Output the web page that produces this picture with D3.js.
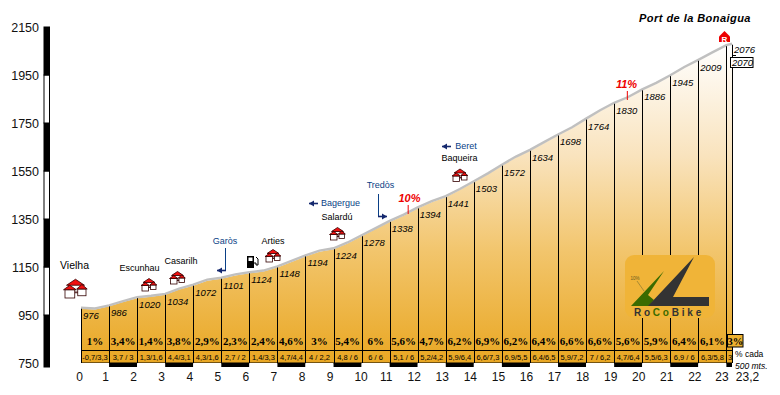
<!DOCTYPE html>
<html>
<head>
<meta charset="utf-8">
<script src="https://cdn.jsdelivr.net/npm/d3@7"></script>
<style>
  html, body { margin: 0; padding: 0; background: #fff; }
  svg { display: block; font-family: "Liberation Sans", Arial, sans-serif; }
</style>
</head>
<body>
<svg id="chart" width="780" height="395"></svg>
<script>
// km marks and altitude at each one (last one is the summit at 23,2)
var kms = [0,1,2,3,4,5,6,7,8,9,10,11,12,13,14,15,16,17,18,19,20,21,22,23,23.2]
var kmLabels = ["0","1","2","3","4","5","6","7","8","9","10","11","12","13","14","15","16","17","18","19","20","21","22","23","23,2"]
var altitudes = [976,986,1020,1034,1072,1101,1124,1148,1194,1224,1278,1338,1394,1441,1503,1572,1634,1698,1764,1830,1886,1945,2009,2070,2076]

// profile every 500 m, read from the partial gradients
var profileKm = [0,0.5,1,1.5,2,2.5,3,3.5,4,4.5,5,5.5,6,6.5,7,7.5,8,8.5,9,9.5,10,10.5,11,11.5,12,12.5,13,13.5,14,14.5,15,15.5,16,16.5,17,17.5,18,18.5,19,19.5,20,20.5,21,21.5,22,22.5,23,23.2]
var profileAlt = [976,973,986,1004,1020,1026,1034,1056,1072,1093,1101,1115,1124,1131,1148,1171,1194,1214,1224,1248,1278,1308,1338,1364,1394,1420,1441,1471,1503,1536,1572,1606,1634,1666,1698,1728,1764,1799,1830,1854,1886,1913,1945,1979,2009,2040,2070,2076]

// gradients per km and per 500 m
var gradients = ["1%","3,4%","1,4%","3,8%","2,9%","2,3%","2,4%","4,6%","3%","5,4%","6%","5,6%","4,7%","6,2%","6,9%","6,2%","6,4%","6,6%","6,6%","5,6%","5,9%","6,4%","6,1%","3%"]
var partials = ["-0,7/3,3","3,7 / 3","1,3/1,6","4,4/3,1","4,3/1,6","2,7 / 2","1,4/3,3","4,7/4,4","4 / 2,2","4,8 / 6","6 / 6","5,1 / 6","5,2/4,2","5,9/6,4","6,6/7,3","6,9/5,5","6,4/6,5","5,9/7,2","7 / 6,2","4,7/6,4","5,5/6,3","6,9 / 6","6,3/5,8","3"]

var altTicks = [750,950,1150,1350,1550,1750,1950,2150]

var svg = d3.select("#chart")
var x = d3.scaleLinear().domain([0, 23.2]).range([81, 732])
var y = d3.scaleLinear().domain([750, 2150]).range([363, 27])

var rowTop = 350, baseY = 363, stripY = 367

var defs = svg.append("defs")
var grad = defs.append("linearGradient")
    .attr("id", "slope")
    .attr("gradientUnits", "userSpaceOnUse")
    .attr("x1", 0).attr("x2", 0).attr("y1", 45).attr("y2", 363)
grad.append("stop").attr("offset", "0%").attr("stop-color", "#ffffff")
grad.append("stop").attr("offset", "35%").attr("stop-color", "#f9e3bd")
grad.append("stop").attr("offset", "65%").attr("stop-color", "#f2c56c")
grad.append("stop").attr("offset", "100%").attr("stop-color", "#e9a723")

// ------Left altitude bar------
var altBands = d3.pairs(altTicks)
svg.selectAll("rect.alt-band")
    .data(altBands)
    .enter()
    .append("rect")
    .attr("class", "alt-band")
    .attr("x", 44)
    .attr("y", function (d) { return y(d[1]) })
    .attr("width", 5.5)
    .attr("height", function (d) { return y(d[0]) - y(d[1]) + (d[0] == 750 ? stripY - baseY : 0) })
    .attr("fill", function (d, i) { return i % 2 == 0 ? "#000" : "#fff" })
    .attr("stroke", "#000")
    .attr("stroke-width", 1)

var yAxis = d3.axisLeft(y).tickValues(altTicks).tickSize(0).tickPadding(0).tickFormat(d3.format("d"))
var yG = svg.append("g").attr("transform", "translate(39,0)").call(yAxis)
yG.select(".domain").remove()
yG.selectAll("text").attr("font-size", "12.5px").attr("font-family", "Liberation Sans").attr("fill", "#111")

// ------Profile------
var points = profileKm.map(function (k, i) { return [k, profileAlt[i]] })
var area = d3.area()
    .x(function (d) { return x(d[0]) })
    .y0(baseY)
    .y1(function (d) { return y(d[1]) })
var line = d3.line()
    .x(function (d) { return x(d[0]) })
    .y(function (d) { return y(d[1]) - 1 })

svg.append("path").datum(points).attr("d", area).attr("fill", "url(#slope)")
svg.append("path").datum(points).attr("d", line)
    .attr("fill", "none").attr("stroke", "#c0c0c0").attr("stroke-width", 2.4)

// km lines
svg.selectAll("line.km")
    .data(kms)
    .enter()
    .append("line")
    .attr("class", "km")
    .attr("x1", function (d) { return Math.round(x(d)) + 0.5 })
    .attr("x2", function (d) { return Math.round(x(d)) + 0.5 })
    .attr("y1", function (d, i) { return y(altitudes[i]) })
    .attr("y2", baseY)
    .attr("stroke", "#000")
    .attr("stroke-width", 1)

// rows under the profile
svg.append("line").attr("x1", x(0)).attr("x2", x(23.2)).attr("y1", rowTop + 0.5).attr("y2", rowTop + 0.5).attr("stroke", "#000")
svg.append("line").attr("x1", x(0)).attr("x2", x(23.2)).attr("y1", baseY).attr("y2", baseY).attr("stroke", "#000")

// checker strip along the km axis
svg.selectAll("rect.strip")
    .data(d3.pairs(kms))
    .enter()
    .append("rect")
    .attr("class", "strip")
    .attr("x", function (d) { return x(d[0]) })
    .attr("y", baseY)
    .attr("width", function (d) { return x(d[1]) - x(d[0]) })
    .attr("height", stripY - baseY)
    .attr("fill", function (d, i) { return i % 2 == 0 ? "#fff" : "#000" })

// altitude labels
svg.selectAll("text.alt")
    .data(altitudes.slice(0, 23))
    .enter()
    .append("text")
    .attr("class", "alt")
    .attr("x", function (d, i) { return x(kms[i]) + 2 })
    .attr("y", function (d) { return y(d) + 10 })
    .attr("font-size", "9.5px")
    .attr("font-style", "italic")
    .attr("fill", "#000")
    .text(function (d) { return d })

// gradient per km
svg.selectAll("text.grad")
    .data(gradients.slice(0, 23))
    .enter()
    .append("text")
    .attr("class", "grad")
    .attr("x", function (d, i) { return (x(kms[i]) + x(kms[i + 1])) / 2 })
    .attr("y", 345)
    .attr("text-anchor", "middle")
    .attr("font-family", "Liberation Serif")
    .attr("font-weight", "bold")
    .attr("font-size", "11px")
    .text(function (d) { return d })

svg.selectAll("text.partial")
    .data(partials.slice(0, 23))
    .enter()
    .append("text")
    .attr("class", "partial")
    .attr("x", function (d, i) { return (x(kms[i]) + x(kms[i + 1])) / 2 })
    .attr("y", 360)
    .attr("text-anchor", "middle")
    .attr("font-size", "7.5px")
    .text(function (d) { return d })

// last stretch, 23 to 23,2
svg.append("rect").attr("x", 727.5).attr("y", 334.5).attr("width", 15.5).attr("height", 12.5)
    .attr("fill", "#eeb02f").attr("stroke", "#000")
svg.append("text").attr("x", 735.3).attr("y", 345).attr("text-anchor", "middle")
    .attr("font-family", "Liberation Serif").attr("font-weight", "bold").attr("font-size", "10.5px")
    .text(gradients[23])
svg.append("text").attr("x", 730).attr("y", 360).attr("text-anchor", "middle").attr("font-size", "7.5px")
    .text(partials[23])
svg.append("rect").attr("x", 733).attr("y", 348).attr("width", 40).attr("height", 20).attr("fill", "#fff")
svg.append("text").attr("x", 735).attr("y", 356.5).attr("font-size", "8.5px").text("% cada")
svg.append("text").attr("x", 735).attr("y", 369).attr("font-size", "8.5px").attr("font-style", "italic").text("500 mts.")

// summit labels
svg.append("text").attr("x", 734).attr("y", 52.5).attr("font-size", "9.5px").attr("font-style", "italic").text(altitudes[24])
svg.append("line").attr("x1", 732).attr("x2", 736).attr("y1", 55.5).attr("y2", 55.5).attr("stroke", "#000")
svg.append("rect").attr("x", 730.5).attr("y", 57.5).attr("width", 22.5).attr("height", 10).attr("fill", "#fff").attr("stroke", "#000")
svg.append("text").attr("x", 732).attr("y", 66).attr("font-size", "9.5px").attr("font-style", "italic").text(altitudes[23])

// ------Km axis------
function kmShift(k) {
    if (k == 0) return -2
    if (k == 10) return -1
    if (k == 23) return -5
    if (k == 23.2) return 15
    return -4
}
var xAxis = d3.axisBottom(x).tickValues(kms).tickSize(0).tickPadding(0)
    .tickFormat(function (d, i) { return kmLabels[i] })
var xG = svg.append("g").attr("transform", "translate(0,372)").call(xAxis)
xG.select(".domain").remove()
xG.selectAll("text")
    .attr("dx", function (d) { return kmShift(d) })
    .attr("font-size", "12px")
    .attr("font-family", "Liberation Sans")
    .attr("fill", "#111")

// ------Annotations------
function place(txt, cx, cy, size, color) {
    svg.append("text")
        .attr("x", cx)
        .attr("y", cy)
        .attr("text-anchor", "middle")
        .attr("dominant-baseline", "middle")
        .attr("font-size", size + "px")
        .attr("fill", color || "#000")
        .text(txt)
}

function house(cx, cy, s) {
    var g = svg.append("g").attr("transform", "translate(" + cx + "," + cy + ") scale(" + s + ")")
    var stroke = { "stroke": "#300", "stroke-width": 0.8 / s }
    function add(el, attrs) {
        var n = g.append(el)
        Object.keys(attrs).forEach(function (k) { n.attr(k, attrs[k]) })
        Object.keys(stroke).forEach(function (k) { n.attr(k, stroke[k]) })
    }
    add("rect", { x: -4.5, y: -3, width: 9, height: 5, fill: "#fff" })
    add("path", { d: "M-6,-2.5 L0,-6.5 L6,-2.5 Z", fill: "#f01010" })
    add("line", { x1: -2, x2: 4, y1: 2.5, y2: 2.5 })
    add("rect", { x: -7, y: 0.5, width: 6.5, height: 5.5, fill: "#fff" })
    add("path", { d: "M-8,0.5 L-3.8,-2.5 L0.5,0.5 Z", fill: "#f01010" })
    add("rect", { x: 1.5, y: 0, width: 5.5, height: 4.5, fill: "#fff" })
    add("path", { d: "M0.8,0 L4.3,-3 L7.8,0 Z", fill: "#f01010" })
}

function arrow(tipX, cy, dir) {
    // small navy arrow, dir -1 points left
    var c = "#14286e"
    svg.append("line").attr("x1", tipX).attr("x2", tipX - dir * 9).attr("y1", cy).attr("y2", cy)
        .attr("stroke", c).attr("stroke-width", 1.6)
    svg.append("path")
        .attr("d", "M" + tipX + "," + cy + " L" + (tipX - dir * 5) + "," + (cy - 3) + " L" + (tipX - dir * 5) + "," + (cy + 3) + " Z")
        .attr("fill", c)
}

var blue = "#0a3f86"

place("Vielha", 74.5, 266, 10.5)
house(75.5, 289, 1.5)
place("Escunhau", 139.5, 269, 9)
house(149, 285, 1)
place("Casarilh", 181, 262, 9)
house(177.5, 278, 1)
place("Arties", 273, 241.5, 9)
house(273, 256, 1)
place("Salardú", 337, 218, 9)
house(337.5, 234, 1)
place("Baqueira", 459.5, 159, 9)
house(460, 175.5, 1)

place("Garòs", 225, 242, 9, blue)
svg.append("line").attr("x1", 225.5).attr("x2", 225.5).attr("y1", 248).attr("y2", 270).attr("stroke", blue)
arrow(217, 270.5, -1)

place("Bagergue", 340.5, 204, 9, blue)
arrow(309, 203.5, -1)

place("Tredòs", 380.5, 186, 9, blue)
svg.append("line").attr("x1", 378.5).attr("x2", 378.5).attr("y1", 194).attr("y2", 216).attr("stroke", blue)
arrow(387, 216.5, 1)

place("Beret", 466, 147, 9, blue)
arrow(442, 146.5, -1)

// fuel pump
var pump = svg.append("g").attr("transform", "translate(246,255)")
pump.append("path").attr("d", "M1,1 h7 v12 h-7 Z M2.5,2.5 v3.5 h4 v-3.5 Z").attr("fill", "#000").attr("fill-rule", "evenodd")
pump.append("path").attr("d", "M8,8 h2 v2 h2 v-6 l-2,-2").attr("fill", "none").attr("stroke", "#000")

// steepest ramps
function ramp(txt, k, labelX, labelY, lineTop, lineBottom) {
    svg.append("text").attr("x", labelX).attr("y", labelY).attr("text-anchor", "middle")
        .attr("font-size", "11px").attr("font-weight", "bold").attr("font-style", "italic")
        .attr("fill", "#ee0000").text(txt)
    svg.append("line").attr("x1", x(k)).attr("x2", x(k)).attr("y1", lineTop).attr("y2", lineBottom).attr("stroke", "#ee0000")
}
ramp("10%", 11.66, 409.5, 202, 205, 214)
ramp("11%", 19.47, 626.5, 88, 91, 100)

// title and summit marker
svg.append("text").attr("x", 695).attr("y", 22).attr("text-anchor", "middle")
    .attr("font-size", "11px").attr("font-weight", "bold").attr("font-style", "italic")
    .attr("letter-spacing", "0.45").text("Port de la Bonaigua")

svg.append("path").attr("d", "M724.5,31 L730,36.5 V42 H719 V36.5 Z").attr("fill", "#ee0000")
svg.append("text").attr("x", 724.5).attr("y", 41.5).attr("text-anchor", "middle")
    .attr("font-size", "8px").attr("font-weight", "bold").attr("fill", "#fff").text("R")

// ------Logo------
var logo = svg.append("g")
logo.append("rect").attr("x", 625).attr("y", 255).attr("width", 90).attr("height", 63).attr("rx", 9)
    .attr("fill", "#f0b438")
logo.append("path").attr("d", "M664,271 L631,306 L649,306 L654,300 L648,295 Z").attr("fill", "#3b6b00")
logo.append("path").attr("d", "M694,257 L648,306 L709,306 L709,297 L673,297 Z").attr("fill", "#333333")
logo.append("line").attr("x1", 637).attr("y1", 281).attr("x2", 644).attr("y2", 291).attr("stroke", "#8a7a30").attr("stroke-width", 0.7)
logo.append("text").attr("x", 635).attr("y", 280).attr("text-anchor", "middle").attr("font-size", "4.5px").attr("fill", "#6a5a20").text("10%")
var brand = logo.append("text").attr("x", 669).attr("y", 315.5).attr("text-anchor", "middle")
    .attr("font-size", "10px").attr("font-weight", "bold").attr("letter-spacing", "2.8").attr("fill", "#333")
brand.append("tspan").text("Ro")
brand.append("tspan").attr("fill", "#3b6b00").text("Co")
brand.append("tspan").text("Bike")
</script>
</body>
</html>
